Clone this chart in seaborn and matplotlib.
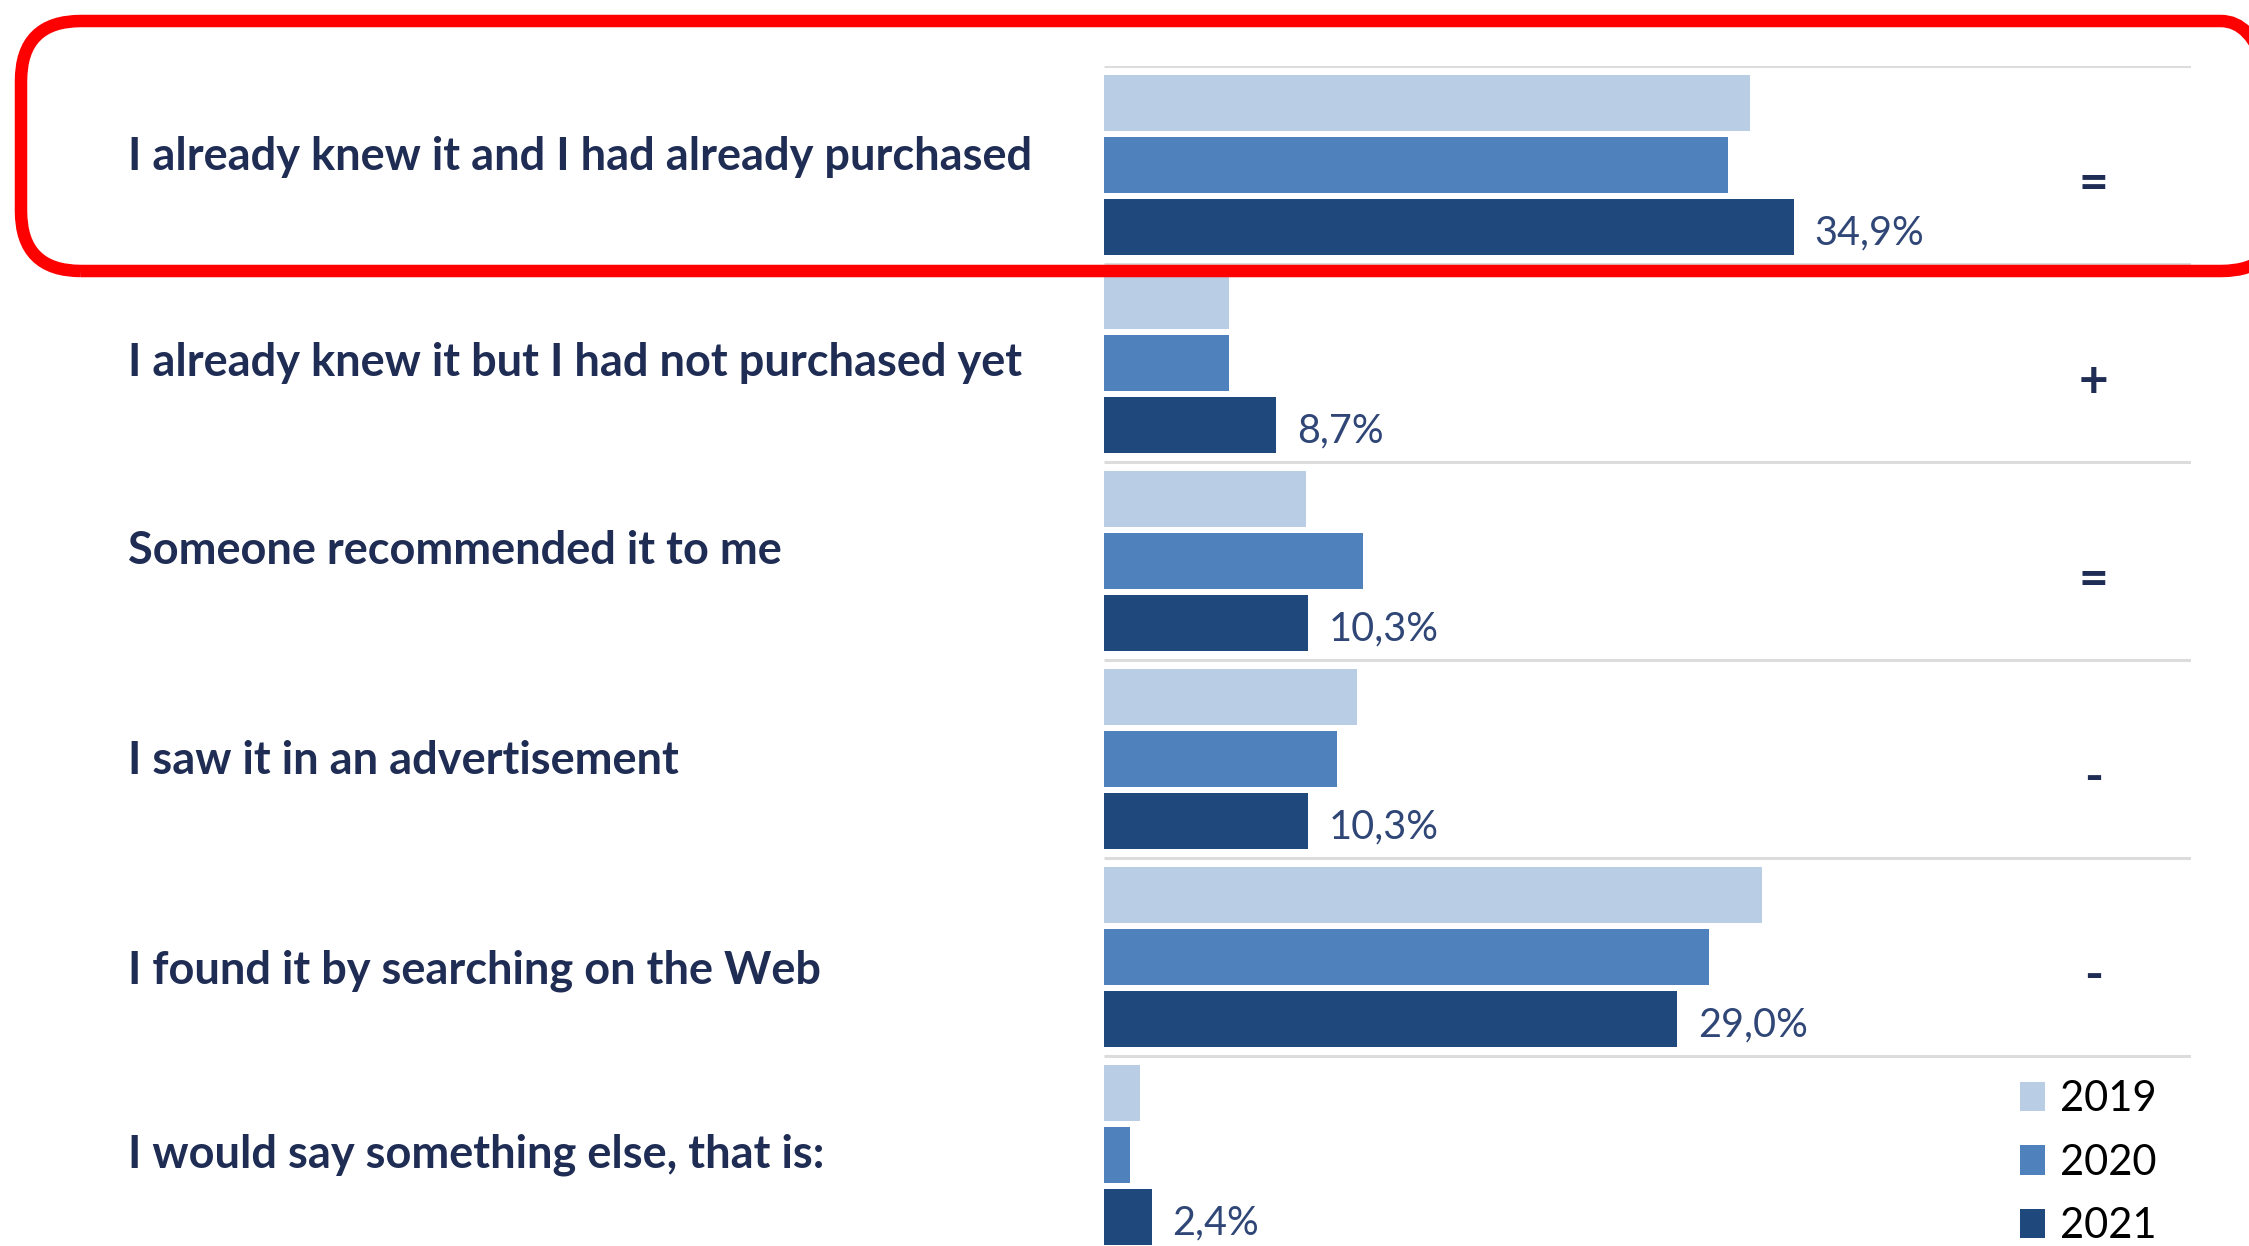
import numpy as np
import pandas as pd
import matplotlib
matplotlib.use("Agg")
import matplotlib.pyplot as plt
import matplotlib.transforms as mtransforms
from matplotlib.patches import FancyBboxPatch
import seaborn as sns

# answers, top to bottom
answers = [
    "I already knew it and I had already purchased",
    "I already knew it but I had not purchased yet",
    "Someone recommended it to me",
    "I saw it in an advertisement",
    "I found it by searching on the Web",
    "I would say something else, that is:",
]
years = ["2019", "2020", "2021"]
pct_2019 = [32.7, 6.3, 10.2, 12.8, 33.3, 1.8]
pct_2020 = [31.6, 6.3, 13.1, 11.8, 30.6, 1.3]
pct_2021 = [34.9, 8.7, 10.3, 10.3, 29.0, 2.4]
trend = ["=", "+", "=", "-", "-", ""]

colors = ["#b9cde5", "#4f81bd", "#1f497d"]
navy = "#1f2d54"

df = pd.DataFrame({
    "answer": answers * 3,
    "year": [y for y in years for _ in answers],
    "pct": pct_2019 + pct_2020 + pct_2021,
})

sns.set_style("white")
plt.rcParams["font.family"] = ["Lato", "DejaVu Sans"]

fig = plt.figure(figsize=(22.49, 12.46), dpi=100)
ax = fig.add_axes([0.491, 0.0, 0.483, 0.947])

sns.barplot(data=df, y="answer", x="pct", hue="year", order=answers,
            hue_order=years, palette=colors, orient="h", width=0.945,
            gap=0.1, linewidth=0, saturation=1, ax=ax, zorder=2)

ax.set_xlim(0, 55)
ax.set_ylim(5.46, -0.5)
ax.set_xlabel("")
ax.set_ylabel("")
ax.set_xticks([])
ax.set_yticks([])
sns.despine(ax=ax, left=True, bottom=True)

# light separators between the groups
ax.hlines(np.arange(-0.5, 5), 0, 55, color="#dcdcdc", lw=2.2, zorder=1)

# 2021 value labels
anns = ax.bar_label(ax.containers[2],
                    labels=[f"{v:.1f}%".replace(".", ",") for v in pct_2021],
                    padding=15, fontsize=28.5, color="#2f4676")
for a in anns:
    a.xyann = (15, -4)

# answer labels on the left, in figure x (small hand nudges as in the slide)
nudge = [-0.04, 0.0, -0.05, 0.01, 0.07, 0.0]
trans = mtransforms.blended_transform_factory(fig.transFigure, ax.transData)
for i, a in enumerate(answers):
    ax.text(0.057, i + nudge[i], a, transform=trans, ha="left", va="center",
            fontsize=32.5, fontweight="bold", color=navy)

# trend symbols on the right
trans2 = mtransforms.blended_transform_factory(ax.transAxes, ax.transData)
for i, s in enumerate(trend):
    ax.text(0.911, i + 0.1, s, transform=trans2, ha="center", va="center",
            fontsize=37, fontweight="bold", color=navy)

leg = ax.legend(frameon=False, loc="center right",
                bbox_to_anchor=(0.968, 0.067), bbox_transform=fig.transFigure,
                fontsize=30, handlelength=0.6, handleheight=0.7,
                handletextpad=0.35, labelspacing=0.62, borderpad=0)
for t in leg.get_texts():
    t.set_color("black")

# red highlight box round the first row (pixel coords)
box = FancyBboxPatch((21, 975), 2260, 250,
                     boxstyle="round,pad=0,rounding_size=60",
                     transform=mtransforms.IdentityTransform(),
                     facecolor="none", edgecolor="#ff0000", lw=9,
                     clip_on=False, zorder=10)
fig.patches.append(box)

fig.savefig("out.png", dpi=100)
